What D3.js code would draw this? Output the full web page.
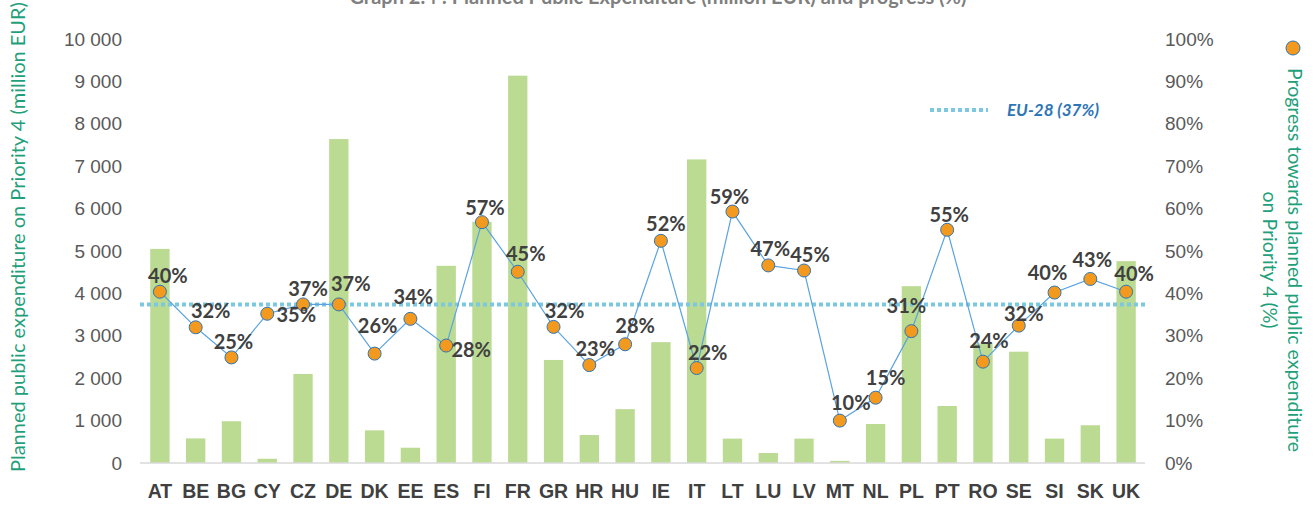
<!DOCTYPE html>
<html>
<head>
<meta charset="utf-8">
<script src="https://cdn.jsdelivr.net/npm/d3@7/dist/d3.min.js"></script>
<style>
  body { margin: 0; background: #fff; }
  svg { font-family: Lato, "Open Sans", sans-serif; }
  .tick text { fill: #595959; font-size: 19px; }
  .dlabel { fill: #404040; font-size: 20px; font-weight: bold; }
  .axtitle { fill: #1fa07a; font-size: 19.5px; }
</style>
</head>
<body>
<svg class="chart" width="1316" height="505"></svg>
<script>
// data
var countries = ["AT","BE","BG","CY","CZ","DE","DK","EE","ES","FI","FR","GR","HR","HU",
                 "IE","IT","LT","LU","LV","MT","NL","PL","PT","RO","SE","SI","SK","UK"];
var planned = [5050, 580, 985, 100, 2100, 7640, 770, 360, 4650, 5690, 9135, 2430, 660, 1270,
               2850, 7160, 575, 235, 575, 50, 920, 4170, 1345, 2820, 2625, 575, 890, 4760];
var progress = [0.404, 0.320, 0.249, 0.352, 0.374, 0.374, 0.258, 0.340, 0.277, 0.568, 0.451, 0.321, 0.231, 0.280,
                0.524, 0.224, 0.593, 0.466, 0.454, 0.100, 0.154, 0.311, 0.550, 0.239, 0.324, 0.402, 0.434, 0.404];
var euAverage = 0.374;
var leftTicks = [0, 1000, 2000, 3000, 4000, 5000, 6000, 7000, 8000, 9000, 10000];
var rightTicks = [0, 0.1, 0.2, 0.3, 0.4, 0.5, 0.6, 0.7, 0.8, 0.9, 1];

// hand-placed data labels (dx, dy from the marker)
var labelNudge = [[8,-16],[15,-16],[2,-15],[29,1],[5,-15],[12,-20],[3,-28],[3,-22],[25,4],[3,-14],
                  [8,-18],[11,-16],[6,-16],[10,-18],[5,-17],[11,-15],[-3,-15],[2,-16],[6,-16],[11,-18],
                  [10,-20],[-5,-25],[2,-15],[6,-21],[5,-12],[-7,-20],[2,-19],[8,-18]];

var svg = d3.select(".chart");
var plotTop = 39, plotBottom = 463;

var x = d3.scaleBand()
    .domain(countries)
    .range([142, 1144])
    .paddingInner(0.46)
    .paddingOuter(0.23);
var yL = d3.scaleLinear().domain([0, 10000]).range([plotBottom, plotTop]);
var yR = d3.scaleLinear().domain([0, 1]).range([plotBottom, plotTop]);

// title (partly cut off at the top)
svg.append("text")
    .attr("x", 658)
    .attr("y", 4)
    .style("text-anchor", "middle")
    .style("font-size", "20px")
    .style("font-weight", "bold")
    .style("fill", "#7f7f7f")
    .text("Graph 2.4 : Planned Public Expenditure (million EUR) and progress (%)");

// left axis
var la = svg.append("g")
    .attr("transform", "translate(131,0)")
    .call(d3.axisLeft(yL).tickValues(leftTicks).tickSize(0).tickPadding(9)
        .tickFormat(function(d) { return d3.format(",")(d).replace(",", " "); }));
la.select(".domain").remove();

// right axis
var ra = svg.append("g")
    .attr("transform", "translate(1157,0)")
    .call(d3.axisRight(yR).tickValues(rightTicks).tickSize(0).tickPadding(8)
        .tickFormat(d3.format(".0%")));
ra.select(".domain").remove();

// bars
svg.append("g").selectAll("rect")
    .data(planned)
    .enter().append("rect")
    .attr("x", function(d, i) { return x(countries[i]); })
    .attr("width", x.bandwidth())
    .attr("y", function(d) { return yL(d); })
    .attr("height", function(d) { return plotBottom - yL(d); })
    .attr("fill", "#bbda92");

// x axis
var xa = svg.append("g")
    .attr("transform", "translate(0," + plotBottom + ")")
    .call(d3.axisBottom(x).tickSize(0).tickPadding(21));
xa.select(".domain").remove();
xa.selectAll("text")
    .style("fill", "#404040")
    .style("font-size", "19.5px")
    .style("font-weight", "bold");
svg.append("line")
    .attr("x1", 140).attr("x2", 1145)
    .attr("y1", plotBottom).attr("y2", plotBottom)
    .attr("stroke", "#d9d9d9").attr("stroke-width", 1.5);

// EU-28 average line
svg.append("line")
    .attr("x1", 140).attr("x2", 1145)
    .attr("y1", yR(euAverage)).attr("y2", yR(euAverage))
    .attr("stroke", "#7cc8e0").attr("stroke-width", 4)
    .attr("stroke-dasharray", "4,3");

// progress line + markers
var cx = function(i) { return x(countries[i]) + x.bandwidth() / 2; };
svg.append("path")
    .datum(progress)
    .attr("d", d3.line().x(function(d, i) { return cx(i); }).y(function(d) { return yR(d); }))
    .attr("fill", "none")
    .attr("stroke", "#5ba3e0")
    .attr("stroke-width", 1.2);

svg.append("g").selectAll("circle")
    .data(progress)
    .enter().append("circle")
    .attr("cx", function(d, i) { return cx(i); })
    .attr("cy", function(d) { return yR(d); })
    .attr("r", 6.5)
    .attr("fill", "#f39a1e")
    .attr("stroke", "#2e75b6")
    .attr("stroke-width", 1);

svg.append("g").selectAll("text")
    .data(progress)
    .enter().append("text")
    .attr("class", "dlabel")
    .attr("x", function(d, i) { return cx(i) + labelNudge[i][0]; })
    .attr("y", function(d, i) { return yR(d) + labelNudge[i][1]; })
    .attr("dy", "0.35em")
    .style("text-anchor", "middle")
    .text(function(d) { return Math.round(d * 100) + "%"; });

// legend for EU-28
var lg = svg.append("g").attr("class", "legendgroup");
lg.append("line")
    .attr("x1", 930).attr("x2", 988)
    .attr("y1", 110).attr("y2", 110)
    .attr("stroke", "#7cc8e0").attr("stroke-width", 4)
    .attr("stroke-dasharray", "4,3");
lg.append("text")
    .attr("x", 1007).attr("y", 110)
    .attr("dy", "0.35em")
    .style("font-size", "17px")
    .style("font-weight", "bold")
    .style("font-style", "italic")
    .style("fill", "#2e75b6")
    .text("EU-28 (37%)");

// axis titles
svg.append("text")
    .attr("class", "axtitle")
    .attr("transform", "translate(25,472) rotate(-90)")
    .style("text-anchor", "start")
    .style("font-size", "20px")
    .text("Planned public expenditure  on Priority 4 (million EUR)");

svg.append("circle")
    .attr("cx", 1293).attr("cy", 48).attr("r", 7)
    .attr("fill", "#f39a1e").attr("stroke", "#2e75b6").attr("stroke-width", 1);
var rt = svg.append("text")
    .attr("class", "axtitle")
    .attr("transform", "translate(1288,260) rotate(90)")
    .style("text-anchor", "middle");
rt.append("tspan").attr("x", 0).attr("y", 0).text("Progress towards planned public expenditure");
rt.append("tspan").attr("x", 0).attr("y", 25).text("on Priority 4 (%)");
</script>
</body>
</html>
